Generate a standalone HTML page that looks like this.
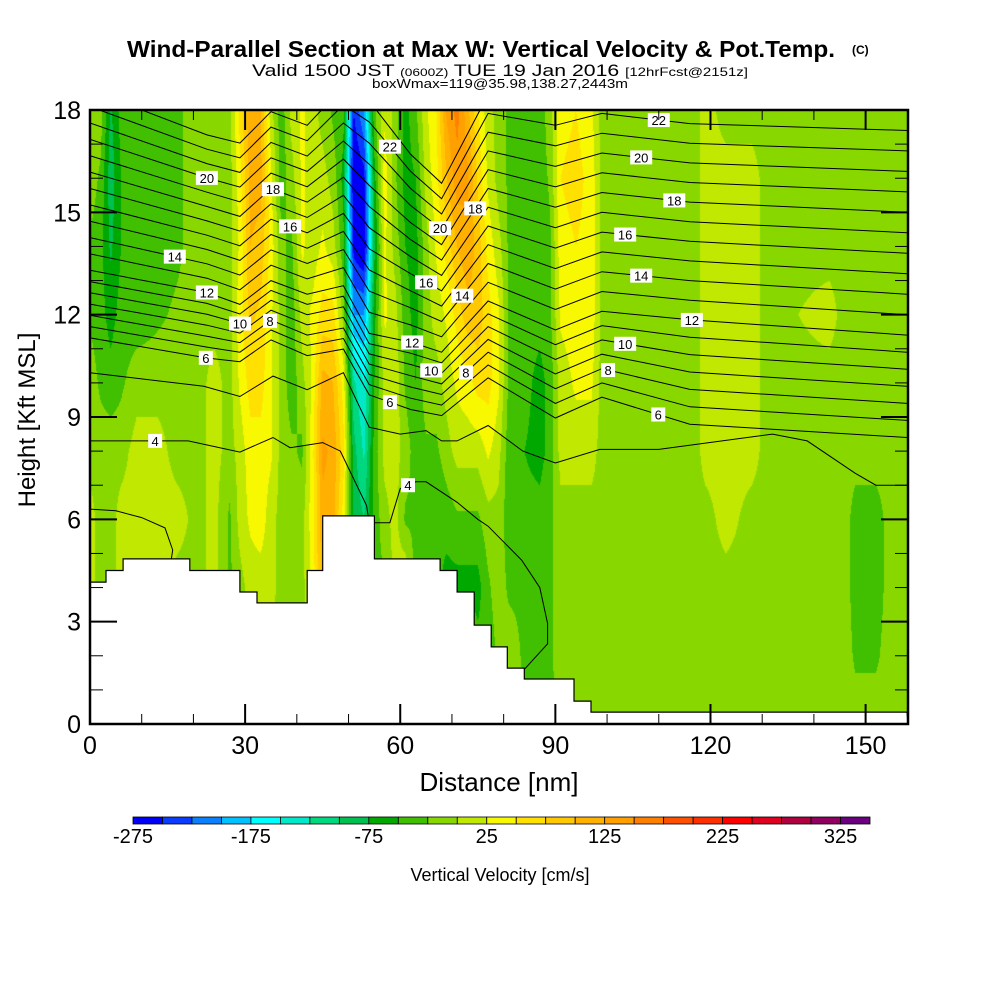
<!DOCTYPE html>
<html><head><meta charset="utf-8"><style>
html,body{margin:0;padding:0;background:#fff;}
#wrap{position:relative;width:1000px;height:1000px;overflow:hidden;font-family:"Liberation Sans",Arial,sans-serif;}
#field{position:absolute;left:90px;top:110px;}
#svg{position:absolute;left:0;top:0;}
</style></head><body>
<div id="wrap">
<canvas id="field" width="818" height="614"></canvas>
<svg id="svg" width="1000" height="1000" xmlns="http://www.w3.org/2000/svg">
<g id="contours"></g>
<g id="terrain"></g>
<g id="labels"></g>
<g id="axes"></g>
<text x="127" y="57" font-size="23" font-weight="bold" textLength="708" lengthAdjust="spacingAndGlyphs">Wind-Parallel Section at Max W: Vertical Velocity &amp; Pot.Temp.</text>
<text x="852" y="54" font-size="12" font-weight="bold">(C)</text>
<text x="252" y="76" font-size="17" textLength="496" lengthAdjust="spacingAndGlyphs">Valid 1500 JST <tspan font-size="11">(0600Z)</tspan> TUE 19 Jan 2016 <tspan font-size="12">[12hrFcst@2151z]</tspan></text>
<text x="372" y="88" font-size="13" textLength="256" lengthAdjust="spacingAndGlyphs">boxWmax=119@35.98,138.27,2443m</text>
<text x="499" y="791" text-anchor="middle" font-size="26">Distance [nm]</text>
<text x="0" y="0" text-anchor="middle" font-size="24" transform="translate(35 420) rotate(-90)">Height [Kft MSL]</text>
<g id="colorbar"></g>
<text x="500" y="881" text-anchor="middle" font-size="18">Vertical Velocity [cm/s]</text>
</svg>
</div>
<script>
// ---- data ----
const colXs = [0,2,4,6,9,13,17,21,24,27,29,31,33,35,37,39,41,43,45,47,49,51,53,55,57,59,61,63,65,67,69,71,73,75,77,79,81,84,87,89,91,94,97,99,117,119,123,128,131,143,146,148,152,155,158];
const rowHs = [0,2,4,6,8,10,12,14,16,18];
const wCols = [
[-10,-10,10,10,-10,-10,-30,-30,-10,-10],
[-10,-10,-10,-10,-10,-30,-40,-40,-30,-10],
[-10,-10,-10,-10,-10,-40,-60,-80,-90,-80],
[-10,-10,10,10,-10,-30,-40,-50,-50,-40],
[-10,-10,10,10,10,-10,-40,-40,-40,-40],
[-10,-10,10,10,10,-10,-30,-40,-40,-40],
[-10,-10,-10,10,-10,-10,-20,-30,-30,-30],
[-10,-10,-10,-10,-10,-10,-10,-10,-10,-10],
[-10,-10,10,10,10,10,-10,-10,-10,-10],
[-10,-10,-30,-30,-10,-10,-10,-10,-10,-10],
[-10,-10,-10,10,10,30,40,30,40,60],
[-10,-10,10,30,40,60,80,100,110,120],
[-10,-10,10,40,40,60,70,90,110,100],
[-10,-10,10,10,30,30,30,40,30,10],
[-10,-10,-10,-10,-10,-10,-10,-20,-40,-40],
[-10,-10,-10,-10,-20,-40,-40,-30,-10,10],
[-10,-10,-10,-10,-30,-10,10,30,30,30],
[-10,-10,30,40,40,30,30,10,10,10],
[-10,-10,110,120,130,110,60,30,10,-10],
[-10,-10,90,110,120,100,60,10,-10,-30],
[-10,-10,40,40,60,40,-10,-40,-60,-40],
[-10,-10,-60,-80,-90,-120,-200,-260,-280,-250],
[-10,-10,-60,-100,-130,-150,-200,-280,-260,-200],
[-10,-10,-30,-40,-40,-50,-60,-80,-60,-30],
[-10,-10,-30,-10,10,10,30,30,40,20],
[-10,-10,10,10,10,20,10,-10,-20,-10],
[-10,-10,30,-30,-10,-30,-40,-50,-60,-60],
[-10,-10,-40,-30,-40,-50,-60,-60,-50,-30],
[-10,-10,-40,-40,-30,-10,-10,-10,10,20],
[-10,-10,-40,-50,-30,-10,10,30,40,50],
[-10,-10,-60,-40,-10,10,30,60,100,130],
[-10,-10,-60,-30,10,30,60,100,140,160],
[-10,-10,-60,-30,10,40,90,120,130,110],
[-10,-40,-60,-30,10,60,90,90,70,50],
[-10,-40,-30,-10,30,60,60,40,20,10],
[-10,-20,-10,-10,10,30,30,10,-10,-10],
[-10,-10,-30,-40,-40,-30,-30,-30,-30,-30],
[-20,-30,-30,-40,-50,-40,-40,-40,-40,-30],
[-30,-30,-30,-40,-60,-60,-40,-40,-40,-40],
[-30,-30,-30,-30,-40,-40,-30,-30,-20,-10],
[-30,-10,-10,-10,10,10,30,40,50,40],
[-10,-10,-10,-10,10,30,40,50,60,50],
[-10,-10,-10,-10,10,30,40,40,40,30],
[-10,-10,-10,-10,-10,-10,-10,-10,-10,-10],
[-10,-10,-10,-10,-10,-10,-10,-10,-10,-10],
[-10,-10,-10,-10,10,10,10,10,10,10],
[-10,-10,-10,10,10,10,10,10,10,-10],
[-10,-10,-10,-10,10,10,10,10,10,-10],
[-10,-10,-10,-10,-10,-10,-10,-10,-10,-10],
[-10,-10,-10,-10,-10,-10,10,-10,-10,-10],
[-10,-10,-10,-10,-10,-10,-10,-10,-10,-10],
[-10,-30,-40,-40,-10,-10,-10,-10,-10,-10],
[-10,-30,-40,-40,-10,-10,-10,-10,-10,-10],
[-10,-10,-10,-10,-10,-10,-10,-10,-10,-10],
[-10,-10,-10,-10,-10,-10,-10,-10,-10,-10]
];
const cbColors = ["#0000f8","#0a3cff","#0a80ff","#00c0ff","#00ffff","#00e8c8","#00d880","#00c050","#00a800","#40c000","#88d800","#c0e800","#f8f800","#ffe000","#ffc800","#ffb000","#ffa000","#ff8000","#ff5000","#ff3000","#ff0000","#e00020","#b00040","#900060","#6a0080"];
const cbLabels = [-275,-175,-75,25,125,225,325];
const terrainX = [0,3.1,3.1,6.4,6.4,19.3,19.3,29,29,32.3,32.3,42,42,45,45,55,55,67.7,67.7,71,71,74.3,74.3,77.6,77.6,80.7,80.7,84,84,93.6,93.6,96.9,96.9,158];
const terrainH = [4.16,4.16,4.5,4.5,4.84,4.84,4.5,4.5,3.87,3.87,3.55,3.55,4.5,4.5,6.1,6.1,4.84,4.84,4.5,4.5,3.87,3.87,2.9,2.9,2.26,2.26,1.64,1.64,1.32,1.32,0.67,0.67,0.35,0.35];
const thNodeX = [0,22.6,29,35,42,49,54,62,68,77,90,99,116,158];
const thMid12 = [13.3,12.65,12.3,13.0,12.6,12.85,11.45,11.2,10.9,12.4,11.55,12.1,11.85,11.4];
const thSpUp = [0.48,0.42,0.43,0.45,0.45,0.53,0.62,0.5,0.45,0.55,0.6,0.58,0.575,0.6];
const thSpLow = [0.33,0.32,0.28,0.29,0.3,0.31,0.3,0.33,0.31,0.375,0.43,0.42,0.51,0.5];
const thLevels = [6,7,8,9,10,11,12,13,14,15,16,17,18,19,20,21,22,23];
const th5X = [0,22,29,35.4,42,49,54,60,65,68,71,77,83.7,90,98.6,110,132,138.7,148,152,158];
const th5H = [10.3,9.9,9.6,10.2,9.8,10.3,8.7,8.5,8.6,8.3,8.3,8.75,8.0,7.65,8.05,8.05,8.5,8.3,7.35,7.0,7.0];
const th4X = [0,19,29,35.4,38.7,45,48.4,53.5,54,58,60,63,65,71,75,77,83.5,87,88.5,88.5,84];
const th4H = [8.3,8.3,7.97,8.4,8.1,8.25,8.0,6.4,5.9,5.9,6.9,7.1,7.1,6.5,6.0,5.8,4.8,4.0,2.95,2.35,1.6];
const th3X = [0,5,10,14.5,16,15.5];
const th3H = [6.3,6.25,6.05,5.75,5.1,4.6];
const lblLevels = [20,18,16,14,12,10,8,6,22,20,18,16,14,12,10,8,6,22,20,18,16,14,12,10,8,6];
const lblX = [22.6,35.4,38.7,16.4,22.6,29,34.8,22.4,58,67.7,74.5,65,72,62.3,66,72.7,58,110,106.6,113,103.5,106.6,116.4,103.5,100.2,109.9];
const lbl4X = [12.6,61.5];

// ---- scales ----
const PX0=90, PX1=908, PY0=110, PY1=724, XMAX=158.2, YMAX=18;
function sx(nm){return PX0+nm*(PX1-PX0)/XMAX;}
function sy(k){return PY1-k*(PY1-PY0)/YMAX;}
function interp(xs,ys,x){
  if(x<=xs[0])return ys[0];
  for(let i=1;i<xs.length;i++){if(x<=xs[i]){const t=(x-xs[i-1])/(xs[i]-xs[i-1]||1);return ys[i-1]+t*(ys[i]-ys[i-1]);}}
  return ys[ys.length-1];
}
function wAt(nm,k){
  let i=1; while(i<colXs.length-1 && nm>colXs[i]) i++;
  const t=Math.max(0,Math.min(1,(nm-colXs[i-1])/(colXs[i]-colXs[i-1])));
  const a=interp(rowHs,wCols[i-1],k), b=interp(rowHs,wCols[i],k);
  return a+t*(b-a);
}
function colIdx(v){return Math.max(0,Math.min(24,Math.floor((v+275)/25)));}
function hex2rgb(h){return [parseInt(h.substr(1,2),16),parseInt(h.substr(3,2),16),parseInt(h.substr(5,2),16)];}

// ---- field ----
(function(){
  const cv=document.getElementById('field'), ctx=cv.getContext('2d');
  const W=cv.width,H=cv.height, img=ctx.createImageData(W,H);
  const rgb=cbColors.map(hex2rgb);
  for(let py=0;py<H;py++){
    const k=(PY1-(PY0+py+0.5))*YMAX/(PY1-PY0);
    for(let px=0;px<W;px++){
      const nm=(px+0.5)*XMAX/(PX1-PX0);
      const c=rgb[colIdx(wAt(nm,k))], o=(py*W+px)*4;
      img.data[o]=c[0];img.data[o+1]=c[1];img.data[o+2]=c[2];img.data[o+3]=255;
    }
  }
  ctx.putImageData(img,0,0);
})();

const NS='http://www.w3.org/2000/svg';
function mk(tag,attrs,parent){const e=document.createElementNS(NS,tag);for(const a in attrs)e.setAttribute(a,attrs[a]);parent.appendChild(e);return e;}

const defs=mk('defs',{},document.getElementById('svg'));
const cp=mk('clipPath',{id:'plotclip'},defs);
mk('rect',{x:PX0,y:PY0,width:PX1-PX0,height:PY1-PY0},cp);

// ---- isentropes ----
function thetaH(level,nm){
  const m=interp(thNodeX,thMid12,nm);
  const sp=level>=12?interp(thNodeX,thSpUp,nm):interp(thNodeX,thSpLow,nm);
  return m+sp*(level-12);
}
const cg=document.getElementById('contours');
cg.setAttribute('clip-path','url(#plotclip)');
thLevels.forEach(function(lv){
  const d=thNodeX.map(function(x,i){return (i?'L':'M')+sx(x).toFixed(1)+' '+sy(thetaH(lv,x)).toFixed(1);}).join(' ');
  const p=mk('path',{d:d,fill:'none',stroke:'#000','stroke-width':1},cg);
  
  
});
[[th5X,th5H,5],[th4X,th4H,4],[th3X,th3H,3]].forEach(function(s){
  const d=s[0].map(function(x,i){return (i?'L':'M')+sx(x).toFixed(1)+' '+sy(s[1][i]).toFixed(1);}).join(' ');
  const p=mk('path',{d:d,fill:'none',stroke:'#000','stroke-width':1},cg);
  
  
});

// ---- terrain ----
(function(){
  const tg=document.getElementById('terrain');
  let d='M'+sx(0)+' '+sy(0);
  terrainX.forEach(function(x,i){d+=' L'+sx(x).toFixed(1)+' '+sy(terrainH[i]).toFixed(1);});
  d+=' L'+PX1+' '+sy(0)+' Z';
  const p=mk('path',{d:d,fill:'#fff',stroke:'#000','stroke-width':1.2},tg);
  
  
})();

// ---- labels ----
(function(){
  const lg=document.getElementById('labels');
  function lab(txt,x,k){
    const X=sx(x),Y=sy(k);
    if(Y<PY0+6)return;
    const g=mk('g',{},lg);
    
    
    const w=String(txt).length>1?22:14;
    mk('rect',{x:X-w/2,y:Y-7,width:w,height:14,fill:'#fff'},g);
    const t=mk('text',{x:X,y:Y+5,'text-anchor':'middle','font-size':13,fill:'#000'},g);
    t.textContent=txt;
  }
  lblLevels.forEach(function(lv,i){lab(lv,lblX[i],thetaH(lv,lblX[i]));});
  lbl4X.forEach(function(x){lab(4,x,interp(th4X.slice(0,13),th4H.slice(0,13),x));});
})();

// ---- axes ----
(function(){
  const ag=document.getElementById('axes');
  const xMaj=[0,30,60,90,120,150], xMin=[10,20,40,50,70,80,100,110,130,140];
  const yMaj=[0,3,6,9,12,15,18], yMin=[1,2,4,5,7,8,10,11,13,14,16,17];
  const st={stroke:'#000','stroke-width':2};
  xMaj.forEach(function(v){
    mk('line',Object.assign({x1:sx(v),x2:sx(v),y1:PY1,y2:PY1-20},st),ag);
    mk('line',Object.assign({x1:sx(v),x2:sx(v),y1:PY0,y2:PY0+20},st),ag);
    const t=mk('text',{x:sx(v),y:754,'text-anchor':'middle','font-size':25},ag);
    t.textContent=v;
    
    
  });
  xMin.forEach(function(v){
    mk('line',{x1:sx(v),x2:sx(v),y1:PY1,y2:PY1-10,stroke:'#000','stroke-width':1},ag);
    mk('line',{x1:sx(v),x2:sx(v),y1:PY0,y2:PY0+10,stroke:'#000','stroke-width':1},ag);
  });
  yMaj.forEach(function(v){
    mk('line',Object.assign({x1:PX0,x2:PX0+27,y1:sy(v),y2:sy(v)},st),ag);
    mk('line',Object.assign({x1:PX1,x2:PX1-27,y1:sy(v),y2:sy(v)},st),ag);
    const t=mk('text',{x:81,y:sy(v)+9,'text-anchor':'end','font-size':25},ag);
    t.textContent=v;
    
    
  });
  yMin.forEach(function(v){
    mk('line',{x1:PX0,x2:PX0+13,y1:sy(v),y2:sy(v),stroke:'#000','stroke-width':1},ag);
    mk('line',{x1:PX1,x2:PX1-13,y1:sy(v),y2:sy(v),stroke:'#000','stroke-width':1},ag);
  });
  const fr=mk('rect',{x:PX0,y:PY0,width:PX1-PX0,height:PY1-PY0,fill:'none',stroke:'#000','stroke-width':2.5},ag);
  
  
})();

// ---- colorbar ----
(function(){
  const g=document.getElementById('colorbar');
  const x0=133,x1=870,y0=817,h=7,bw=(x1-x0)/cbColors.length;
  cbColors.forEach(function(c,i){
    const r=mk('rect',{x:x0+i*bw,y:y0,width:bw,height:h,fill:c,stroke:'#000','stroke-width':0.8},g);
    
    
  });
  cbLabels.forEach(function(v){
    const i=(v+275)/25;
    const t=mk('text',{x:x0+i*bw,y:843,'text-anchor':'middle','font-size':20},g);
    t.textContent=v;
    
    
  });
})();
</script>
</body></html>
